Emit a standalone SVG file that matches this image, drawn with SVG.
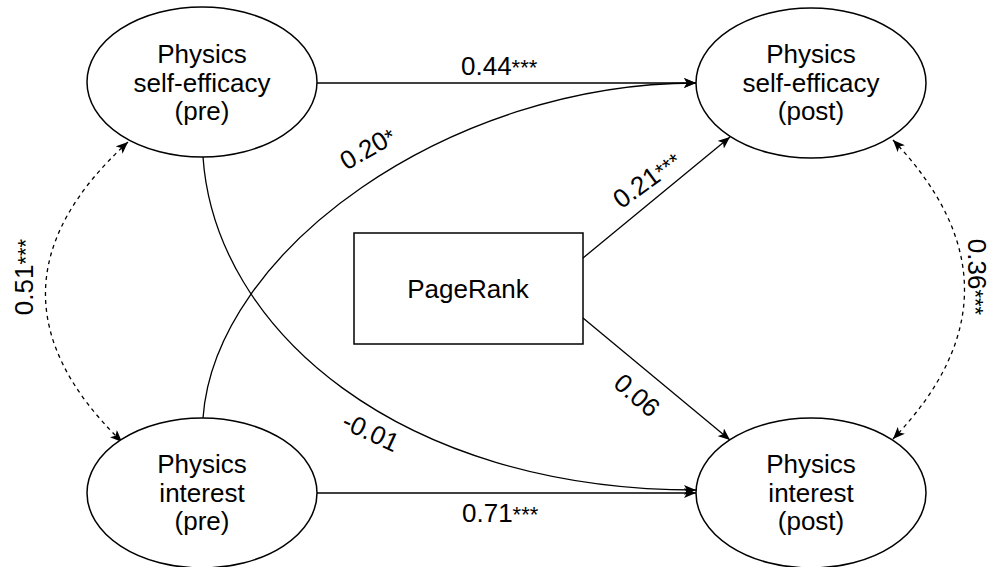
<svg xmlns="http://www.w3.org/2000/svg" width="992" height="567" viewBox="0 0 992 567">
<style>
.n{fill:#fff;stroke:#000;stroke-width:1.5}
.t{font-family:"Liberation Sans",Arial,sans-serif;font-size:26px;fill:#000;text-anchor:middle}
.l{font-family:"Liberation Sans",Arial,sans-serif;font-size:26px;fill:#000}
.s{font-size:22px}
.c{fill:none;stroke:#000;stroke-width:1.3}
.d{fill:none;stroke:#000;stroke-width:1.3;stroke-dasharray:4 4}
</style>
<defs>
<marker id="a" viewBox="0 0 12 10" refX="12" refY="5" markerWidth="12" markerHeight="10" markerUnits="userSpaceOnUse" orient="auto-start-reverse">
<path d="M0,0 L12,5 L0,10 L3,5 z" fill="#000"/>
</marker>
</defs>
<rect width="992" height="567" fill="#fff"/>
<g id="connectors">
<path class="c" d="M317,83 L696,83" marker-end="url(#a)"/>
<path class="c" d="M317,493 L696,493" marker-end="url(#a)"/>
<path class="c" d="M203,418 C215,250 450,83 696,83" marker-end="url(#a)"/>
<path class="c" d="M203,157 C215,330 400,490 696,490" marker-end="url(#a)"/>
<path class="c" d="M583,258 L730,137" marker-end="url(#a)"/>
<path class="c" d="M583,318 L730,440" marker-end="url(#a)"/>
<path class="d" d="M128,142 Q-34,290 122,442" marker-start="url(#a)" marker-end="url(#a)"/>
<path class="d" d="M893,140 Q1036,290 893,439" marker-start="url(#a)" marker-end="url(#a)"/>
<text class="l" x="461" y="75">0.44<tspan class="s">***</tspan></text>
<text class="l" x="462" y="522">0.71<tspan class="s">***</tspan></text>
<text class="t" transform="translate(372,156) rotate(-30)">0.20<tspan class="s">*</tspan></text>
<text class="t" transform="translate(652,187) rotate(-36)">0.21<tspan class="s">***</tspan></text>
<text class="t" transform="translate(631,402) rotate(41)">0.06</text>
<text class="t" transform="translate(367,440) rotate(25)">-0.01</text>
<text class="t" transform="translate(33,277) rotate(-90)">0.51<tspan class="s">***</tspan></text>
<text class="t" transform="translate(968,277) rotate(90)">0.36<tspan class="s">***</tspan></text>
</g>
<g id="se_pre">
<ellipse class="n" cx="202" cy="82" rx="115" ry="75"/>
<text class="t" x="202" y="63">Physics</text>
<text class="t" x="202" y="92">self-efficacy</text>
<text class="t" x="202" y="120">(pre)</text>
</g>
<g id="se_post">
<ellipse class="n" cx="811" cy="83" rx="115" ry="75"/>
<text class="t" x="811" y="63">Physics</text>
<text class="t" x="811" y="92">self-efficacy</text>
<text class="t" x="811" y="120">(post)</text>
</g>
<g id="int_pre">
<ellipse class="n" cx="202" cy="493" rx="115" ry="75"/>
<text class="t" x="202" y="473">Physics</text>
<text class="t" x="202" y="502">interest</text>
<text class="t" x="202" y="530">(pre)</text>
</g>
<g id="int_post">
<ellipse class="n" cx="811" cy="493" rx="115" ry="75"/>
<text class="t" x="811" y="473">Physics</text>
<text class="t" x="811" y="502">interest</text>
<text class="t" x="811" y="530">(post)</text>
</g>
<g id="pagerank">
<rect class="n" x="354" y="233" width="229" height="111"/>
<text class="t" x="468" y="298">PageRank</text>
</g>
</svg>
